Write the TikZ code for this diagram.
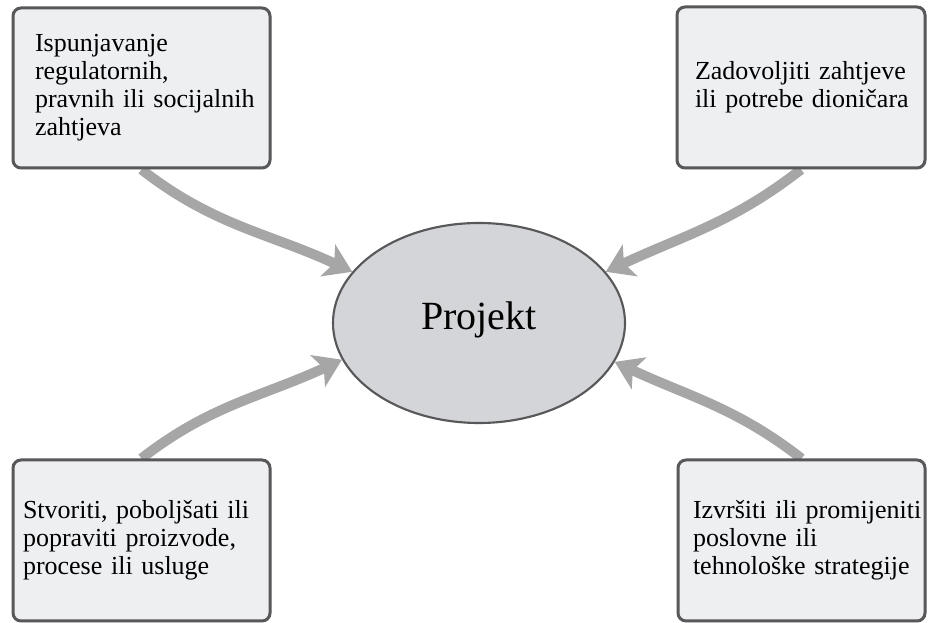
\documentclass[tikz,border=0pt]{standalone}
\usepackage{fontspec}
\setmainfont{Liberation Serif}
\usetikzlibrary{arrows.meta,shapes.geometric,shadows,backgrounds}
\definecolor{boxfill}{RGB}{238,239,241}
\definecolor{boxline}{RGB}{88,88,90}
\definecolor{ellfill}{RGB}{212,213,216}
\definecolor{arrowgray}{RGB}{166,166,166}
\begin{document}
\begin{tikzpicture}[x=0.75pt,y=0.75pt,
  goalbox/.style={draw=boxline, line width=2.25pt, fill=boxfill,
    rounded corners=6pt, align=left, anchor=center, inner ysep=0pt,
    font=\fontsize{19.5pt}{21pt}\selectfont,
    drop shadow={opacity=0.25, shadow xshift=1pt, shadow yshift=-1pt}},
  projell/.style={ellipse, draw=boxline, line width=1.6pt, fill=ellfill,
    inner sep=0pt, minimum width=219pt, minimum height=150pt,
    font=\fontsize{30pt}{32pt}\selectfont},
  flow/.style={draw=arrowgray, line width=7.5pt,
    -{Stealth[length=20pt,width=26pt,inset=5pt]}}]
\useasboundingbox (0,0) rectangle (928,623);

\node[projell] (proj) at (479,300) {\raisebox{11pt}{Projekt}};

\node[goalbox, minimum width=192.75pt, minimum height=120pt,
      inner xsep=16.5pt, text width=159.75pt] (tl) at (141.5,535)
  {\begin{tabular}{@{}l@{}}Ispunjavanje\\ regulatornih,\\ pravnih ili socijalnih\\ zahtjeva\end{tabular}};

\node[goalbox, minimum width=186pt, minimum height=120.75pt,
      inner xsep=13.5pt, text width=159pt] (tr) at (801,535.5)
  {\begin{tabular}{@{}l@{}}Zadovoljiti zahtjeve\\ ili potrebe dioničara\end{tabular}};

\node[goalbox, minimum width=192.75pt, minimum height=120.75pt,
      inner xsep=7.5pt, text width=177.75pt] (bl) at (141.5,82.5)
  {\begin{tabular}{@{}l@{}}Stvoriti, poboljšati ili\\ popraviti proizvode,\\ procese ili usluge\end{tabular}};

\node[goalbox, minimum width=185.25pt, minimum height=120.75pt,
      inner xsep=11.25pt, text width=162.75pt] (br) at (801.5,82.5)
  {\begin{tabular}{@{}l@{}}Izvršiti ili promijeniti\\ poslovne ili\\ tehnološke strategije\end{tabular}};

\begin{scope}[on background layer]
\draw[flow] (tl.south) to[out=-38,in=155] (proj.158);
\draw[flow] (tr.south) to[out=-142,in=25] (proj.22);
\draw[flow] (bl.north) to[out=38,in=205] (proj.195);
\draw[flow] (br.north) to[out=142,in=-25] (proj.344);
\end{scope}
\end{tikzpicture}
\end{document}
